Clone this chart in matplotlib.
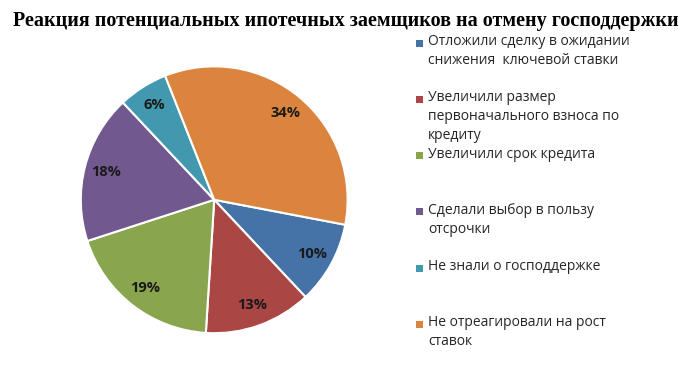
import matplotlib.pyplot as plt
from matplotlib.patches import Rectangle

# Data
labels = [
    'Отложили сделку в ожидании\nснижения  ключевой ставки',
    'Увеличили размер\nпервоначального взноса по\nкредиту',
    'Увеличили срок кредита',
    'Сделали выбор в пользу\nотсрочки',
    'Не знали о господдержке',
    'Не отреагировали на рост\nставок',
]
shares = [10, 13, 19, 18, 6, 34]
colors = ['#4572A7', '#AA4643', '#89A54E', '#71588F', '#4198AF', '#DB843D']

title = 'Реакция потенциальных ипотечных заемщиков на отмену господдержки'

fig = plt.figure(figsize=(6.91, 3.78), dpi=100)

# Pie
ax = fig.add_axes([0.115, 0.115, 0.39, 0.713])
wedges, texts, autotexts = ax.pie(
    shares, colors=colors, startangle=-10.8, counterclock=False,
    autopct='%d%%', pctdistance=0.84,
    wedgeprops=dict(edgecolor='white', linewidth=1.5),
    textprops=dict(fontsize=10.5, fontweight='bold', color='#1a1a1a',
                   family=['Open Sans', 'DejaVu Sans']))
ax.set_xlim(-1.01, 1.01)
ax.set_ylim(-1.01, 1.01)
ax.set_aspect('equal')

# Title
fig.text(0.5, 0.945, title, ha='center', va='center', fontsize=14.5,
         fontweight='bold', family=['Liberation Serif', 'DejaVu Serif'])

# Legend drawn by hand, evenly spaced entries
top_px = 43
step_px = 56.3
for i, (lab, col) in enumerate(zip(labels, colors)):
    y = 1 - (top_px + i * step_px) / 378
    fig.patches.append(Rectangle((416 / 691, y - 3.5 / 378), 7 / 691, 7 / 378,
                                 transform=fig.transFigure, facecolor=col,
                                 edgecolor='none'))
    fig.text(428 / 691, y + 9 / 378, lab, ha='left', va='top', fontsize=10,
             color='#262626', linespacing=1.35,
             family=['Open Sans', 'DejaVu Sans'])

fig.savefig('out.png', dpi=100)
